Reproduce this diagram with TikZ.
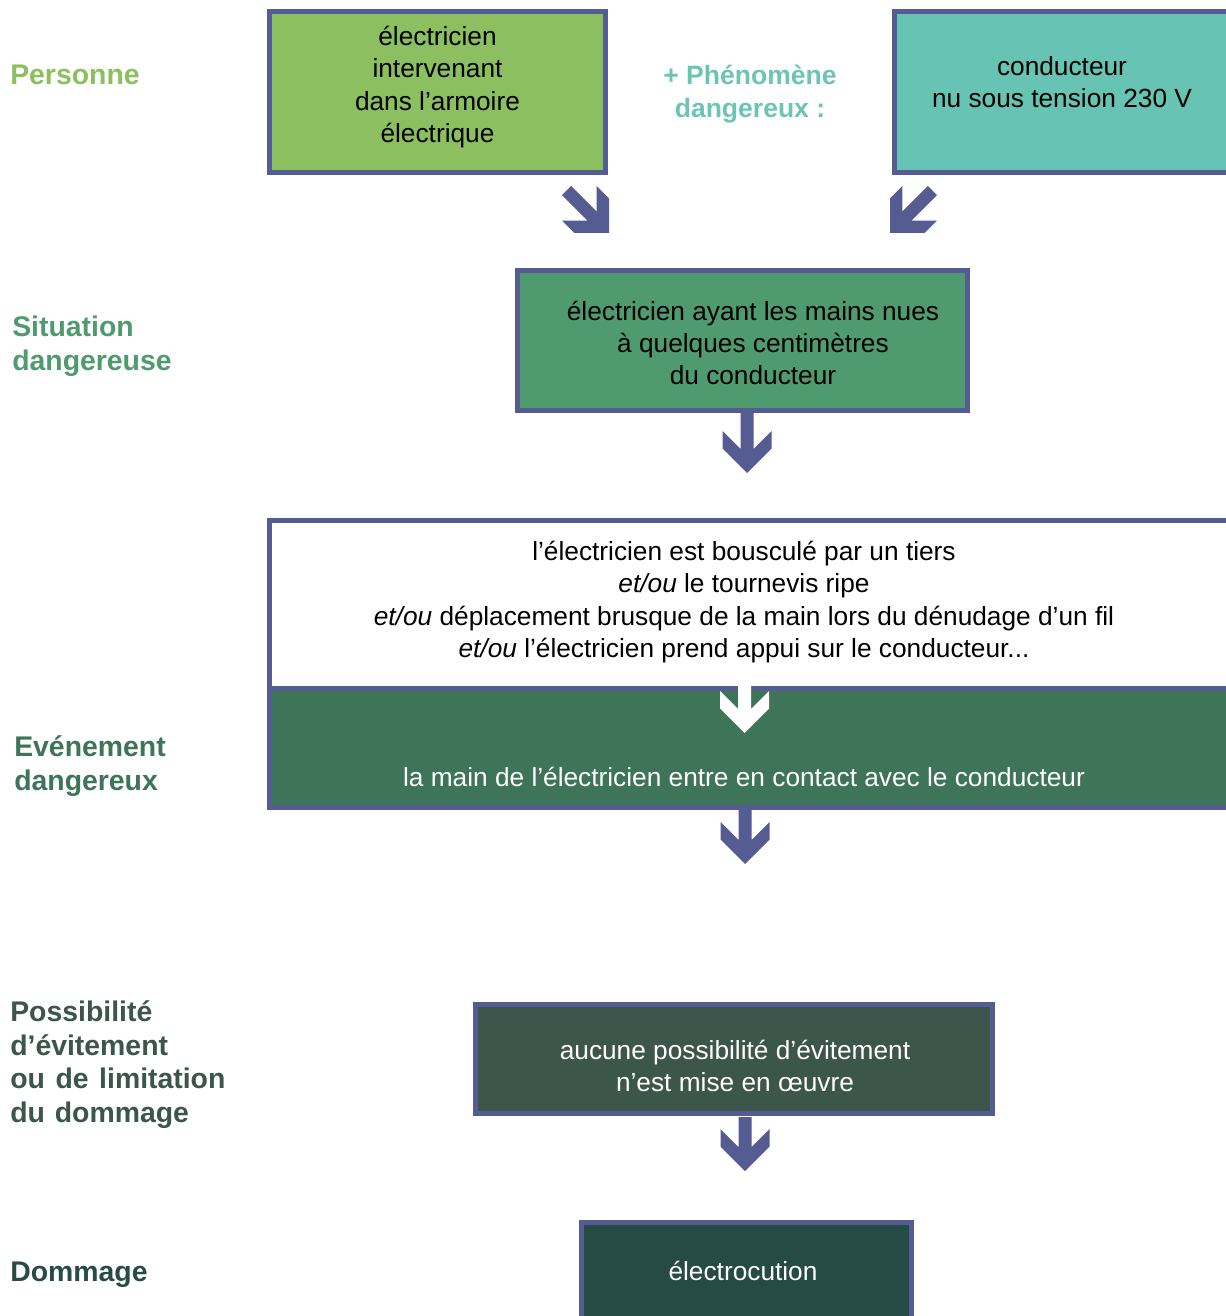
\documentclass[tikz,border=0pt]{standalone}
\usepackage{fontspec}
\setmainfont{Liberation Sans}
\usetikzlibrary{calc,fit}
\definecolor{bordc}{RGB}{84,92,145}
\definecolor{cpers}{RGB}{140,191,95}
\definecolor{cphen}{RGB}{103,195,180}
\definecolor{cphentxt}{RGB}{108,196,181}
\definecolor{csit}{RGB}{80,154,112}
\definecolor{ceven}{RGB}{62,116,87}
\definecolor{cposs}{RGB}{60,86,75}
\definecolor{cdom}{RGB}{38,74,68}
\definecolor{cdomtxt}{RGB}{42,75,69}
\begin{document}
\begin{tikzpicture}[x=0.75pt,y=-0.75pt,
  box/.style={draw=bordc, line width=3.75pt, inner sep=0pt, rectangle},
  txt/.style={align=center, inner sep=0pt, font=\fontsize{19.7}{24.2}\selectfont},
  lab/.style={anchor=west, align=left, inner sep=0pt, font=\fontsize{21.3}{25.3}\selectfont\bfseries},
  pics/blockarrow/.style 2 args={code={
    \fill[#2] (-6.5,-#1) -- (-6.5,-24) -- (-24.5,-42) -- (-24.5,-24.5) -- (0,0)
      -- (24.5,-24.5) -- (24.5,-42) -- (6.5,-24) -- (6.5,-#1) -- cycle;}}
]
\useasboundingbox (0,0) rectangle (1226,1316);
\clip (0,0) rectangle (1226,1316);

% boxes
\node[box, fill=cpers, fit={(269.5,11.5) (605.5,172.5)}] (b1) {};
\node[box, fill=cphen, fit={(894.5,11.5) (1240,172.5)}] (b2) {};
\node[box, fill=csit, fit={(517.5,270.5) (967.5,410.5)}] (b3) {};
\node[box, fill=white, fit={(269.5,520.5) (1240,688)}] (b4) {};
\node[box, fill=ceven, fit={(269.5,688) (1240,807.5)}] (b5) {};
\node[box, fill=cposs, fit={(475.5,1004.5) (992.5,1113.5)}] (b6) {};
\node[box, fill=cdom, fit={(581.5,1222.5) (911.5,1330)}] (b7) {};

% box texts
\node[txt] (t1) at (437.5,87) {électricien\\intervenant\\dans l’armoire\\électrique};
\node[txt] (t2) at (1062,82) {conducteur\\nu sous tension 230 V};
\node[txt] (t3) at (753,343) {électricien ayant les mains nues\\à quelques centimètres\\du conducteur};
\node[txt] (t4) at (744,602) {l’électricien est bousculé par un tiers\\
  \textit{et/ou} le tournevis ripe\\
  \textit{et/ou} déplacement brusque de la main lors du dénudage d’un fil\\
  \textit{et/ou} l’électricien prend appui sur le conducteur...};
\node[txt, text=white] (t5) at (744,777) {la main de l’électricien entre en contact avec le conducteur};
\node[txt, text=white] (t6) at (735,1066) {aucune possibilité d’évitement\\n’est mise en œuvre};
\node[txt, text=white] (t7) at (743,1271) {électrocution};

% left labels
\node[lab, text=cpers] (l1) at (10,75) {Personne};
\node[lab, anchor=center, align=center, text=cphentxt,
      font=\fontsize{19.9}{24.8}\selectfont\bfseries] (l2) at (750,94) {+ Phénomène\\dangereux :};
\node[lab, text=csit] (l3) at (12,346) {Situation\\dangereuse};
\node[lab, text=ceven] (l4) at (14,766) {Evénement\\dangereux};
\node[lab, text=cposs] (l5) at (10,1064.5) {Possibilité\\d’évitement\\ou\hspace{2pt} de\hspace{2pt} limitation\\du\hspace{1.5pt} dommage};
\node[lab, text=cdomtxt] (l6) at (10,1275) {Dommage};

% block arrows
\pic[rotate=45] at ($(b1.south east)+(1,58)$) {blockarrow={60}{bordc}};
\pic[rotate=-45] at ($(b2.south west)+(-2,58)$) {blockarrow={60}{bordc}};
\pic at ($(b3.south)+(4.5,60)$) {blockarrow={60}{bordc}};
\pic at ($(b5.north west)+(477.5,47.5)$) {blockarrow={49}{white}};
\pic at ($(b5.south west)+(478,54)$) {blockarrow={54}{bordc}};
\pic at ($(b6.south)+(11,55)$) {blockarrow={54}{bordc}};
\end{tikzpicture}
\end{document}
